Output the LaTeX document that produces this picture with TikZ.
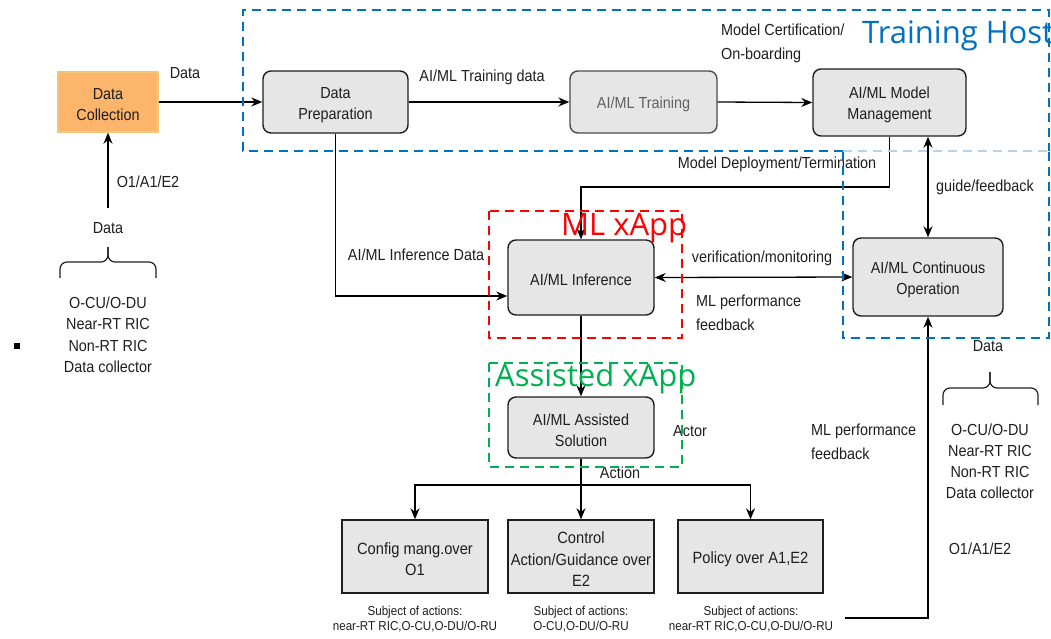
\documentclass[tikz,border=0pt]{standalone}
\usepackage{fontspec}
\setmainfont[FakeStretch=0.9]{Liberation Sans}
\newfontfamily\bigf{Open Sans}
\usetikzlibrary{arrows.meta}
\definecolor{hostblue}{RGB}{0,112,192}
\definecolor{xred}{RGB}{255,0,0}
\definecolor{xgreen}{RGB}{0,176,80}
\definecolor{boxgray}{RGB}{230,230,230}
\definecolor{ink}{RGB}{30,30,30}
\definecolor{orangefill}{RGB}{253,180,107}
\definecolor{orangeline}{RGB}{240,200,120}
\newcommand{\tup}{\rule{0pt}{17pt}}
\begin{document}
\begin{tikzpicture}[x=1pt,y=-1pt,
 rbox/.style={draw=ink, line width=1.4pt, fill=boxgray, rounded corners=8pt, align=center, text=ink, font=\fontsize{16}{21}\selectfont, inner sep=0pt},
 sbox/.style={draw=ink, line width=1.4pt, fill=boxgray, align=center, text=ink, font=\fontsize{16.3}{21.5}\selectfont, inner sep=0pt},
 lbl/.style={text=ink, font=\fontsize{16}{24}\selectfont, inner sep=0pt, align=center},
 sml/.style={text=ink, font=\fontsize{12.9}{15}\selectfont, inner sep=0pt, align=center},
 arr/.style={draw=black, line width=1.3pt, -{Stealth[length=11pt,width=9pt]}},
 arr2/.style={draw=black, line width=1.3pt, {Stealth[length=11pt,width=9pt]}-{Stealth[length=11pt,width=9pt]}},
 dbox/.style={line width=2.6pt, dash pattern=on 9pt off 6pt},
 big/.style={font=\bigf\fontsize{31}{31}\selectfont, inner sep=0pt, anchor=base west},
 bracestyle/.style={draw=ink, line width=1.2pt, rounded corners=7pt}
]
\useasboundingbox (0,0) rectangle (1051,638);

% boxes
\node[draw=orangeline, line width=1.4pt, fill=orangefill, align=center, text=ink, font=\fontsize{16}{21}\selectfont, inner sep=0pt, minimum width=100pt, minimum height=60pt] (dc) at (108,102) {\tup Data\\Collection};
\node[rbox, minimum width=145pt, minimum height=62pt] (dp) at (335.5,102) {\tup Data\\Preparation};
\node[rbox, draw=ink!80, text=ink!70, minimum width=147pt, minimum height=62pt] (tr) at (643.5,102) {\tup AI/ML Training};
\node[rbox, minimum width=153pt, minimum height=67pt] (mm) at (889.5,102.5) {\tup AI/ML Model\\Management};
\node[rbox, minimum width=146pt, minimum height=75pt] (inf) at (581,277.5) {\tup AI/ML Inference};
\node[rbox, minimum width=150pt, minimum height=78pt] (co) at (928,277) {\tup AI/ML Continuous\\Operation};
\node[rbox, minimum width=146pt, minimum height=61pt] (as) at (581,427.5) {\tup AI/ML Assisted\\Solution};
\node[sbox, minimum width=146pt, minimum height=73pt] (b1) at (415,556.5) {\tup Config mang.over\\O1};
\node[sbox, minimum width=146pt, minimum height=73pt] (b2) at (581,556.5) {\tup Control\\Action/Guidance over\\E2};
\node[sbox, minimum width=145pt, minimum height=73pt] (b3) at (750.5,556.5) {\tup Policy over A1,E2};

% coordinates
\coordinate (ld) at (108,208);
\coordinate (br) at (581,485);
\coordinate (fb) at (845,618);
\coordinate (dd) at (889.5,187);

% connectors
\draw[arr] (ld) -- (dc.south);
\draw[arr] (dc.east) -- (dp.west);
\draw[arr] (dp.east) -- (tr.west);
\draw[arr] (tr.east) -- (mm.west);
\draw[arr] (dp.south) |- ([yshift=-18.5pt]inf.west);
\draw[arr] (mm.south) -- (dd) -| (inf.north);
\draw[arr2] (co.north) -- (co.north |- mm.south);
\draw[arr2] (inf.east) -- (co.west);
\draw[arr] (inf.south) -- (as.north);
\draw[arr] (as.south) -- (b2.north);
\draw[arr] (br) -| (b1.north);
\draw[arr] (br) -| (b3.north);
\draw[arr] (fb) -| (co.south);

% labels
\node[lbl] (l1) at (185,73) {Data};
\node[lbl] (l2) at (482,77) {AI/ML Training data};
\node[lbl, align=left, anchor=west] (l3) at (721,43) {Model Certification/\\On-boarding};
\node[lbl] (l4) at (777,164) {Model Deployment/Termination};
\node[lbl] (l5) at (985,187) {guide/feedback};
\node[lbl] (l6) at (416,255) {AI/ML Inference Data};
\node[lbl] (l7) at (762,258) {verification/monitoring};
\node[lbl, align=left, anchor=west] (l8) at (696,313) {ML performance\\feedback};
\node[lbl] (l9) at (690,431) {Actor};
\node[lbl] (l10) at (620,473) {Action};
\node[lbl, align=left, anchor=west] (l11) at (811,441.5) {ML performance\\feedback};
\node[lbl] (l12) at (148,182) {O1/A1/E2};
\node[lbl] (l13) at (108,228) {Data};
\node[lbl, font=\fontsize{16}{21.5}\selectfont] (l14) at (108,335) {O-CU/O-DU\\Near-RT RIC\\Non-RT RIC\\Data collector};
\node[lbl] (l15) at (988,346) {Data};
\node[lbl, font=\fontsize{16}{21}\selectfont] (l16) at (990,461.5) {O-CU/O-DU\\Near-RT RIC\\Non-RT RIC\\Data collector};
\node[lbl] (l17) at (980,549) {O1/A1/E2};
\node[sml] (s1) at (415,619.5) {Subject of actions:\\near-RT RIC,O-CU,O-DU/O-RU};
\node[sml] (s2) at (581,619.5) {Subject of actions:\\O-CU,O-DU/O-RU};
\node[sml] (s3) at (751,619.5) {Subject of actions:\\near-RT RIC,O-CU,O-DU/O-RU};

% braces
\draw[bracestyle] (60,278) -- (60,262) -- (108,262) -- (108,247);
\draw[bracestyle] (156,278) -- (156,262) -- (108,262) -- (108,247);
\draw[bracestyle] (943,405) -- (943,388) -- (990,388) -- (990,372);
\draw[bracestyle] (1038,405) -- (1038,388) -- (990,388) -- (990,372);

% small square
\fill[black] (14,343) rectangle (20,349);

% dashed group boxes
\draw[dbox, draw=hostblue] (843,151) -- (243,151) -- (243,10) -- (1049,10) -- (1049,151);
\draw[dbox, draw=hostblue] (843,151) -- (843,338) -- (1049,338) -- (1049,151);
\draw[dbox, draw=hostblue!30] (843,151) -- (1049,151);
\draw[dbox, draw=xred] (489,211) rectangle (682,338);
\draw[dbox, draw=xgreen] (489,363) rectangle (682,467);

% group titles
\node[big, text=hostblue] (th) at (862,43) {Training Host};
\node[big, text=xred] (mx) at (561,235) {ML xApp};
\node[big, text=xgreen] (ax) at (495,386) {Assisted xApp};
\end{tikzpicture}
\end{document}
